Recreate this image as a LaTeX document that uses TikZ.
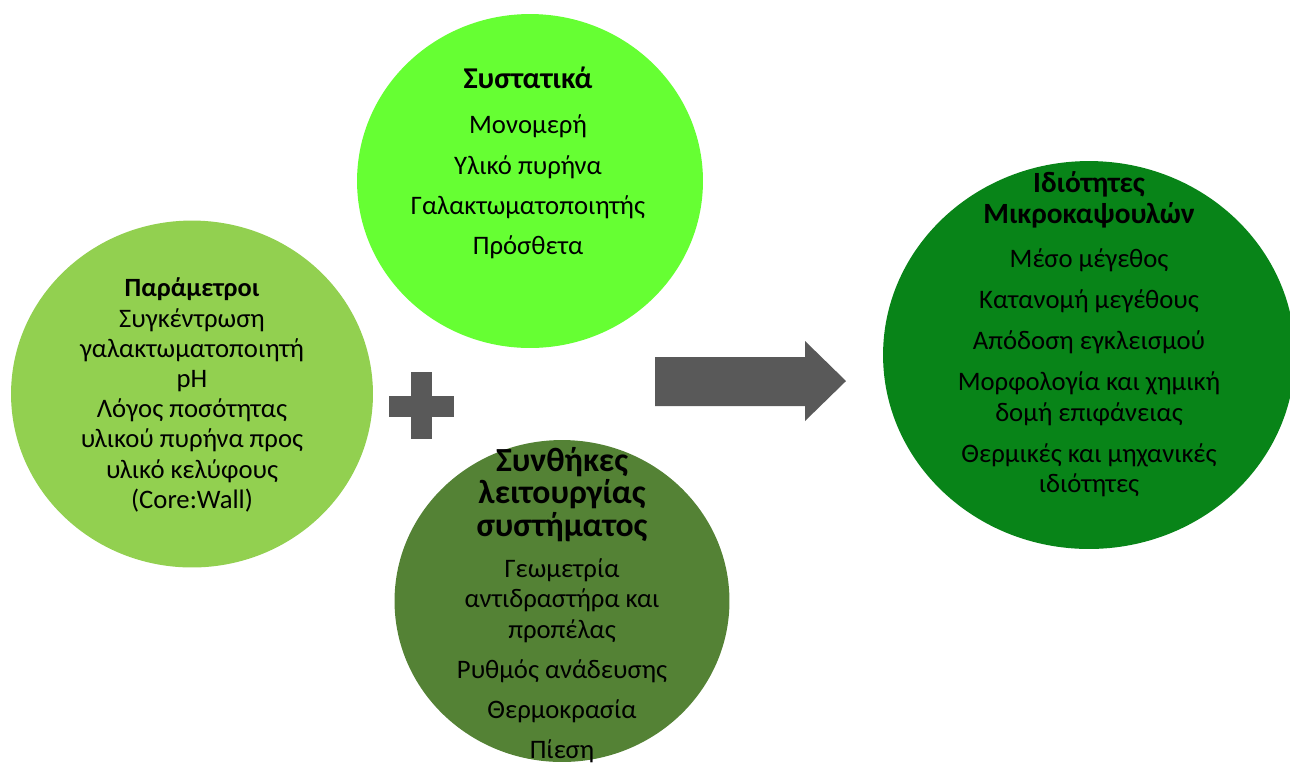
\documentclass[tikz,border=0pt]{standalone}
\usepackage{fontspec}
\setmainfont{Carlito}
\usetikzlibrary{shapes.geometric,positioning}

\definecolor{cPar}{HTML}{92D050}
\definecolor{cComp}{HTML}{66FF33}
\definecolor{cCond}{HTML}{548235}
\definecolor{cProp}{RGB}{8,132,24}
\definecolor{cGray}{HTML}{595959}

% bold heading line at a given size
\newcommand\hd[2]{{\fontsize{#1}{17.2}\selectfont\bfseries #2}}

\begin{document}
\begin{tikzpicture}[x=0.02cm, y=-0.02cm]
\tikzset{
  bub/.style  ={ellipse, inner sep=0pt, draw=none},
  txt/.style  ={align=center, inner sep=0pt, text=black,
                font=\fontsize{15.2}{17.2}\selectfont},
  glyph/.style={fill=cGray, draw=none}
}
\clip (0,0) rectangle (1290,769);
% circles
\node (par)[bub, fill=cPar, minimum width=7.24cm, minimum height=6.94cm] at (192,394) {};
\node (comp)[bub, fill=cComp, minimum width=6.92cm, minimum height=6.68cm] at (530,181) {};
\node (cond)[bub, fill=cCond, minimum width=6.70cm, minimum height=6.44cm] at (562,601) {};
\node (prop)[bub, fill=cProp, minimum width=8.24cm, minimum height=7.76cm] at (1089,355) {};
% texts
\node (parT)[txt] at (192,395) {\hd{15}{Παράμετροι}\\Συγκέντρωση\\γαλακτωματοποιητή\\pH\\Λόγος ποσότητας\\υλικού πυρήνα προς\\υλικό κελύφους\\(Core:Wall)};
\node (compT)[txt] at (528,163) {\hd{17.2}{Συστατικά}\\[0.3cm]Μονομερή\\[0.2cm]Υλικό πυρήνα\\[0.2cm]Γαλακτωματοποιητής\\[0.2cm]Πρόσθετα};
\node (condT)[txt] at (562,605) {\hd{19.2}{Συνθήκες}\\[0.05cm]\hd{19.2}{λειτουργίας}\\[0.05cm]\hd{19.2}{συστήματος}\\[0.22cm]Γεωμετρία\\αντιδραστήρα και\\προπέλας\\[0.2cm]Ρυθμός ανάδευσης\\[0.2cm]Θερμοκρασία\\[0.2cm]Πίεση};
\node (propT)[txt] at (1089,334) {\hd{16.7}{Ιδιότητες}\\[0.03cm]\hd{16.7}{Μικροκαψουλών}\\[0.26cm]Μέσο μέγεθος\\[0.22cm]Κατανομή μεγέθους\\[0.22cm]Απόδοση εγκλεισμού\\[0.22cm]Μορφολογία και χημική\\δομή επιφάνειας\\[0.22cm]Θερμικές και μηχανικές\\ιδιότητες};
% plus sign and block arrow
\fill[glyph] (411,372) rectangle (432,439);
\fill[glyph] (389,396) rectangle (454,417);
\fill[glyph] (655,357) -- (805,357) -- (805,341) -- (846,381) -- (805,421) -- (805,406) -- (655,406) -- cycle;
\end{tikzpicture}
\end{document}
